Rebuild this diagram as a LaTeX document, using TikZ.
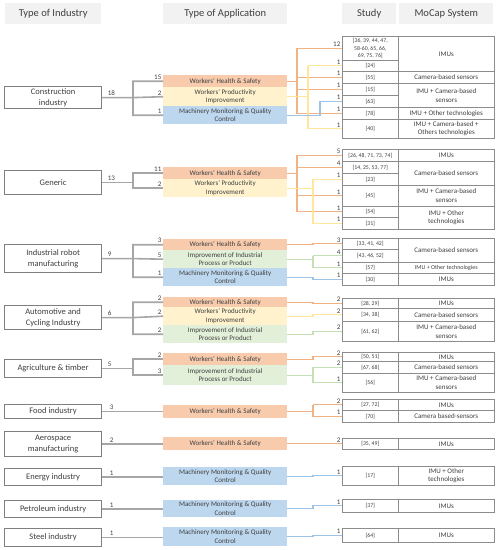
\documentclass[tikz,border=0pt]{standalone}
\usepackage{fontspec}
\setmainfont{Carlito}
\definecolor{whsfill}{HTML}{F8CBAD}
\definecolor{whsline}{HTML}{F4B183}
\definecolor{wpfill}{HTML}{FFF2CC}
\definecolor{wpline}{HTML}{FFE699}
\definecolor{mmfill}{HTML}{BDD7EE}
\definecolor{mmline}{HTML}{9DC3E6}
\definecolor{iifill}{HTML}{E2F0D9}
\definecolor{iiline}{HTML}{C5E0B4}
\definecolor{headfill}{HTML}{F2F2F2}
\definecolor{txt}{HTML}{3F3F3F}
\definecolor{boxgray}{HTML}{7F7F7F}
\definecolor{trunkgray}{HTML}{A6A6A6}
\definecolor{cellgray}{HTML}{8C8C8C}

\begin{document}
\begin{tikzpicture}[x=1pt, y=-1pt,
    every node/.style={text=txt},
    ht/.style={minimum height=#1},
    head/.style={fill=headfill, anchor=north west, minimum height=21pt, inner sep=0pt, font=\fontsize{10.5}{12}\selectfont},
    ind/.style={draw=boxgray, line width=1.2pt, fill=white, anchor=north west, minimum width=97pt, inner sep=0pt, align=center, font=\fontsize{8.5}{10.5}\selectfont},
    app/.style={anchor=north west, minimum width=124pt, inner sep=0pt, align=center, font=\fontsize{7}{8.5}\selectfont},
    whs/.style={app, fill=whsfill},
    wp/.style={app, fill=wpfill},
    mm/.style={app, fill=mmfill},
    ii/.style={app, fill=iifill},
    cell/.style={draw=cellgray, line width=0.6pt, anchor=north west, minimum width=56pt, inner sep=0pt, align=center, font=\fontsize{5.8}{7.6}\selectfont},
    sys/.style={cell, minimum width=96pt, font=\fontsize{7}{8.6}\selectfont},
    num/.style={font=\fontsize{7}{8}\selectfont, inner sep=1.5pt},
    trunk/.style={draw=trunkgray, line width=1.6pt},
    whsc/.style={draw=whsline, line width=1.1pt},
    wpc/.style={draw=wpline, line width=1.1pt},
    mmc/.style={draw=mmline, line width=1.1pt},
    iic/.style={draw=iiline, line width=1.1pt}]
\useasboundingbox (0,0) rectangle (500,550);

\node[head, minimum width=96pt] (hInd) at (5,3) {Type of Industry};
\node[head, minimum width=124pt] (hApp) at (163,3) {Type of Application};
\node[head, minimum width=54pt] (hStudy) at (342,3) {Study};
\node[head, minimum width=94pt] (hSys) at (399,3) {MoCap System};

\coordinate (gb) at (133,0);
\coordinate (bo) at (297,0);
\coordinate (by) at (308,0);
\coordinate (bb) at (320,0);
\coordinate (bm) at (313,0);

% industries
\node[ind, ht=22] (iCon) at (4,86) {Construction\\industry};
\node[ind, ht=24] (iGen) at (4,170) {Generic};
\node[ind, ht=28] (iRob) at (4,244) {Industrial robot\\manufacturing};
\node[ind, ht=24] (iAut) at (4,305) {Automotive and\\Cycling Industry};
\node[ind, ht=18] (iAgr) at (4,359) {Agriculture \& timber};
\node[ind, ht=14] (iFood) at (4,404) {Food industry};
\node[ind, ht=25] (iAero) at (4,431) {Aerospace\\manufacturing};
\node[ind, ht=17] (iEner) at (4,468) {Energy industry};
\node[ind, ht=17] (iPetr) at (4,500) {Petroleum industry};
\node[ind, ht=18] (iSteel) at (4,528) {Steel industry};

% applications
\node[whs, ht=12] (aConW) at (163,75) {Workers' Health \& Safety};
\node[wp, ht=19] (aConP) at (163,87) {Workers' Productivity\\Improvement};
\node[mm, ht=18] (aConM) at (163,106) {Machinery Monitoring \& Quality\\Control};
\node[whs, ht=12] (aGenW) at (163,167) {Workers' Health \& Safety};
\node[wp, ht=18] (aGenP) at (163,179) {Workers' Productivity\\Improvement};
\node[whs, ht=11] (aRobW) at (163,239) {Workers' Health \& Safety};
\node[ii, ht=18] (aRobI) at (163,250) {Improvement of Industrial\\Process or Product};
\node[mm, ht=18] (aRobM) at (163,268) {Machinery Monitoring \& Quality\\Control};
\node[whs, ht=10] (aAutW) at (163,297) {Workers' Health \& Safety};
\node[wp, ht=18] (aAutP) at (163,307) {Workers' Productivity\\Improvement};
\node[ii, ht=18] (aAutI) at (163,325) {Improvement of Industrial\\Process or Product};
\node[whs, ht=12] (aAgrW) at (163,353) {Workers' Health \& Safety};
\node[ii, ht=20] (aAgrI) at (163,365) {Improvement of Industrial\\Process or Product};
\node[whs, ht=13] (aFoodW) at (163,405) {Workers' Health \& Safety};
\node[whs, ht=13] (aAeroW) at (163,437) {Workers' Health \& Safety};
\node[mm, ht=18] (aEnerM) at (163,467) {Machinery Monitoring \& Quality\\Control};
\node[mm, ht=17] (aPetrM) at (163,500) {Machinery Monitoring \& Quality\\Control};
\node[mm, ht=19] (aSteelM) at (163,527) {Machinery Monitoring \& Quality\\Control};

% studies and systems
\node[cell, ht=24] (s1) at (342,36) {[36, 39, 44, 47,\\58-60, 65, 66,\\69, 75, 76]};
\node[cell, ht=11] (s2) at (342,60) {[24]};
\node[cell, ht=12] (s3) at (342,71) {[55]};
\node[cell, ht=12] (s4) at (342,83) {[15]};
\node[cell, ht=12] (s5) at (342,95) {[63]};
\node[cell, ht=12] (s6) at (342,107) {[78]};
\node[cell, ht=19] (s7) at (342,119) {[40]};
\node[sys, ht=35] (m1) at (398,36) {IMUs};
\node[sys, ht=12] (m2) at (398,71) {Camera-based sensors};
\node[sys, ht=24] (m3) at (398,83) {IMU + Camera-based\\sensors};
\node[sys, ht=12] (m4) at (398,107) {IMU + Other technologies};
\node[sys, ht=19] (m5) at (398,119) {IMU + Camera-based +\\Others technologies};

\node[cell, ht=12] (g1) at (342,149) {[26, 48, 71, 73, 74]};
\node[cell, ht=12] (g2) at (342,161) {[14, 25, 53, 77]};
\node[cell, ht=12] (g3) at (342,173) {[23]};
\node[cell, ht=21] (g4) at (342,185) {[45]};
\node[cell, ht=11] (g5) at (342,206) {[54]};
\node[cell, ht=12] (g6) at (342,217) {[31]};
\node[sys, ht=12] (n1) at (398,149) {IMUs};
\node[sys, ht=24] (n2) at (398,161) {Camera-based sensors};
\node[sys, ht=21] (n3) at (398,185) {IMU + Camera-based\\sensors};
\node[sys, ht=23] (n4) at (398,206) {IMU + Other\\technologies};

\node[cell, ht=11] (r1) at (342,238) {[33, 41, 42]};
\node[cell, ht=13] (r2) at (342,249) {[43, 46, 52]};
\node[cell, ht=11] (r3) at (342,262) {[57]};
\node[cell, ht=12] (r4) at (342,273) {[30]};
\node[sys, ht=24] (q1) at (398,238) {Camera-based sensors};
\node[sys, ht=11, font=\fontsize{6}{7}\selectfont] (q2) at (398,262) {IMU + Other technologies};
\node[sys, ht=12] (q3) at (398,273) {IMUs};

\node[cell, ht=10] (u1) at (342,298) {[28, 29]};
\node[cell, ht=13] (u2) at (342,308) {[34, 38]};
\node[cell, ht=20] (u3) at (342,321) {[61, 62]};
\node[sys, ht=10] (v1) at (398,298) {IMUs};
\node[sys, ht=13] (v2) at (398,308) {Camera-based sensors};
\node[sys, ht=20] (v3) at (398,321) {IMU + Camera-based\\sensors};

\node[cell, ht=9] (a1) at (342,352) {[50, 51]};
\node[cell, ht=12] (a2) at (342,361) {[67, 68]};
\node[cell, ht=19] (a3) at (342,373) {[56]};
\node[sys, ht=9] (w1) at (398,352) {IMUs};
\node[sys, ht=12] (w2) at (398,361) {Camera-based sensors};
\node[sys, ht=19] (w3) at (398,373) {IMU + Camera-based\\sensors};

\node[cell, ht=11] (f1) at (342,399) {[27, 72]};
\node[cell, ht=12] (f2) at (342,410) {[70]};
\node[sys, ht=11] (k1) at (398,399) {IMUs};
\node[sys, ht=12] (k2) at (398,410) {Camera based-sensors};

\node[cell, ht=11] (e1) at (342,438) {[35, 49]};
\node[sys, ht=11] (x1) at (398,438) {IMUs};
\node[cell, ht=19] (e2) at (342,466) {[17]};
\node[sys, ht=19] (x2) at (398,466) {IMU + Other\\technologies};
\node[cell, ht=13] (e3) at (342,499) {[37]};
\node[sys, ht=13] (x3) at (398,499) {IMUs};
\node[cell, ht=14] (e4) at (342,528) {[64]};
\node[sys, ht=14] (x4) at (398,528) {IMUs};

% industry to application
\draw[trunk] (iCon.east) -- (iCon.east -| gb) (aConW.west) -| (gb |- aConM.west) -- (aConM.west) (iCon.east -| gb) -- (aConP.west);
\draw[trunk] (iGen.east) -- (iGen.east -| gb) (aGenW.west) -| (gb |- aGenP.west) -- (aGenP.west);
\draw[trunk] (iRob.east) -- (iRob.east -| gb) (aRobW.west) -| (gb |- aRobM.west) -- (aRobM.west) (iRob.east -| gb) -- (aRobI.west);
\draw[trunk] (iAut.east) -- (iAut.east -| gb) (aAutW.west) -| (gb |- aAutI.west) -- (aAutI.west) (iAut.east -| gb) -- (aAutP.west);
\draw[trunk] (iAgr.east) -- (iAgr.east -| gb) (aAgrW.west) -| (gb |- aAgrI.west) -- (aAgrI.west);
\draw[trunk] (iFood.east) -- (iFood.east -| aFoodW.west);
\draw[trunk] (iAero.east) -- (iAero.east -| aAeroW.west);
\draw[trunk] (iEner.east) -- (iEner.east -| aEnerM.west);
\draw[trunk] (iPetr.east) -- (iPetr.east -| aPetrM.west);
\draw[trunk] (iSteel.east) -- (iSteel.east -| aSteelM.west);

\node[num, above right, xshift=4pt] at (iCon.east) {18};
\node[num, above right, xshift=4pt] at (iGen.east) {13};
\node[num, above right, xshift=4pt] at (iRob.east) {9};
\node[num, above right, xshift=4pt] at (iAut.east) {6};
\node[num, above right, xshift=4pt] at (iAgr.east) {5};
\node[num, above right, xshift=6pt] at (iFood.east) {3};
\node[num, above right, xshift=6pt] at (iAero.east) {2};
\node[num, above right, xshift=6pt] at (iEner.east) {1};
\node[num, above right, xshift=6pt] at (iPetr.east) {1};
\node[num, above right, xshift=6pt] at (iSteel.east) {1};

\node[num, above left] at (aConW.west) {15};
\node[num, above left] at (aConP.west) {2};
\node[num, above left] at (aConM.west) {1};
\node[num, above left] at (aGenW.west) {11};
\node[num, above left] at (aGenP.west) {2};
\node[num, above left] at (aRobW.west) {3};
\node[num, above left] at (aRobI.west) {5};
\node[num, above left] at (aRobM.west) {1};
\node[num, above left] at (aAutW.west) {2};
\node[num, above left] at (aAutP.west) {2};
\node[num, above left] at (aAutI.west) {2};
\node[num, above left] at (aAgrW.west) {2};
\node[num, above left] at (aAgrI.west) {3};

% application to study
\draw[whsc] (aConW.east) -- (aConW.east -| bo) (bo |- s1.west) -- (s1.west) (bo |- s1.west) |- (s6.west) (bo |- s3.west) -- (s3.west) (bo |- s4.west) -- (s4.west);
\draw[wpc] (aConP.east) -- (aConP.east -| by) (by |- s2.west) -- (s2.west) (by |- s2.west) |- (s7.west);
\draw[mmc] (aConM.east) -| (bb |- s5.west) -- (s5.west);
\draw[whsc] (aGenW.east) -- (aGenW.east -| bo) (bo |- g1.west) -- (g1.west) (bo |- g1.west) |- (g5.west) (bo |- g2.west) -- (g2.west) (bo |- g4.west) -- (g4.west);
\draw[wpc] (aGenP.east) -- (aGenP.east -| bm) (bm |- g3.west) -- (g3.west) (bm |- g3.west) |- (g6.west);
\draw[whsc] (aRobW.east) -| (bm |- r1.west) -- (r1.west);
\draw[iic] (aRobI.east) -- (aRobI.east -| bm) (bm |- r2.west) -- (r2.west) (bm |- r2.west) |- (r3.west);
\draw[mmc] (aRobM.east) -| (bm |- r4.west) -- (r4.west);
\draw[whsc] (aAutW.east) -| (bm |- u1.west) -- (u1.west);
\draw[wpc] (aAutP.east) -| (bm |- u2.west) -- (u2.west);
\draw[iic] (aAutI.east) -| (bm |- u3.west) -- (u3.west);
\draw[whsc] (aAgrW.east) -| (bm |- a1.west) -- (a1.west);
\draw[iic] (aAgrI.east) -- (aAgrI.east -| bm) (bm |- a2.west) -- (a2.west) (bm |- a2.west) |- (a3.west);
\draw[whsc] (aFoodW.east) -- (aFoodW.east -| bm) (bm |- f1.west) -- (f1.west) (bm |- f1.west) |- (f2.west);
\draw[whsc] (aAeroW.east) -| (bm |- e1.west) -- (e1.west);
\draw[mmc] (aEnerM.east) -| (bm |- e2.west) -- (e2.west);
\draw[mmc] (aPetrM.east) -| (bm |- e3.west) -- (e3.west);
\draw[mmc] (aSteelM.east) -| (bm |- e4.west) -- (e4.west);

\node[num, above left] at (s1.west) {12};
\node[num, above left] at (s2.west) {1};
\node[num, above left] at (s3.west) {1};
\node[num, above left] at (s4.west) {1};
\node[num, above left] at (s5.west) {1};
\node[num, above left] at (s6.west) {1};
\node[num, above left] at (s7.west) {1};
\node[num, above left] at (g1.west) {5};
\node[num, above left] at (g2.west) {4};
\node[num, above left] at (g3.west) {1};
\node[num, above left] at (g4.west) {1};
\node[num, above left] at (g5.west) {1};
\node[num, above left] at (g6.west) {1};
\node[num, above left] at (r1.west) {3};
\node[num, above left] at (r2.west) {4};
\node[num, above left] at (r3.west) {1};
\node[num, above left] at (r4.west) {1};
\node[num, above left] at (u1.west) {2};
\node[num, above left] at (u2.west) {2};
\node[num, above left] at (u3.west) {2};
\node[num, above left] at (a1.west) {2};
\node[num, above left] at (a2.west) {2};
\node[num, above left] at (a3.west) {1};
\node[num, above left] at (f1.west) {2};
\node[num, above left] at (f2.west) {1};
\node[num, above left] at (e1.west) {2};
\node[num, above left] at (e2.west) {1};
\node[num, above left] at (e3.west) {1};
\node[num, above left] at (e4.west) {1};
\end{tikzpicture}
\end{document}
